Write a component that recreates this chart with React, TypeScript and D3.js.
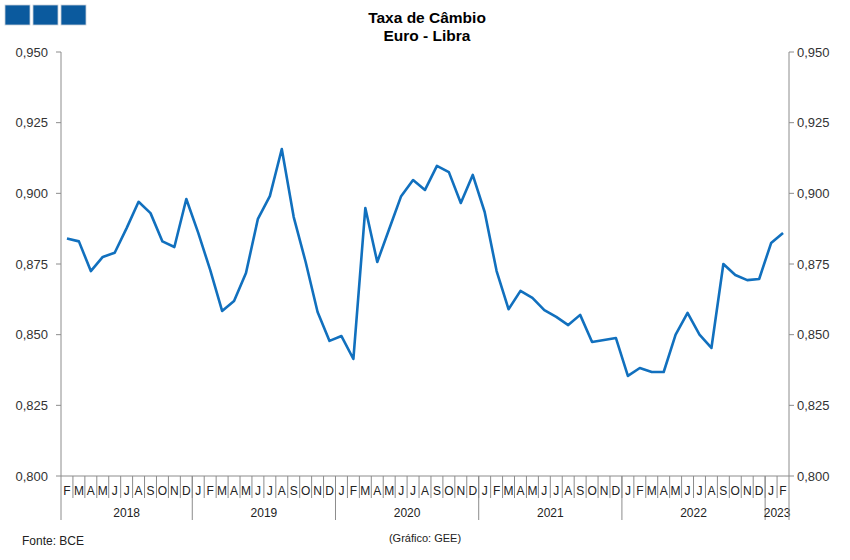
import React from 'react';
import * as d3 from 'd3';

// Euro - Libra, média mensal, Fev 2018 a Fev 2023
const months = [
  'F', 'M', 'A', 'M', 'J', 'J', 'A', 'S', 'O', 'N', 'D',
  'J', 'F', 'M', 'A', 'M', 'J', 'J', 'A', 'S', 'O', 'N', 'D',
  'J', 'F', 'M', 'A', 'M', 'J', 'J', 'A', 'S', 'O', 'N', 'D',
  'J', 'F', 'M', 'A', 'M', 'J', 'J', 'A', 'S', 'O', 'N', 'D',
  'J', 'F', 'M', 'A', 'M', 'J', 'J', 'A', 'S', 'O', 'N', 'D',
  'J', 'F',
];

const rates = [
  0.884, 0.883, 0.8725, 0.8775, 0.879, 0.8877, 0.897, 0.893, 0.883, 0.881, 0.898,
  0.886, 0.8729, 0.8584, 0.8619, 0.8718, 0.891, 0.899, 0.9157, 0.8916, 0.8757, 0.858, 0.8478,
  0.8495, 0.8414, 0.8948, 0.8757, 0.8874, 0.899, 0.9047, 0.9012, 0.9097, 0.9075, 0.8966, 0.9065,
  0.8934, 0.8725, 0.859, 0.8655, 0.863, 0.8587, 0.8563, 0.8534, 0.857, 0.8474, 0.8481, 0.8488,
  0.8354, 0.8382, 0.8368, 0.8368, 0.85, 0.8577, 0.85, 0.8453, 0.875, 0.8711, 0.8693, 0.8697,
  0.8824, 0.886,
];

const years = ['2018', '2019', '2020', '2021', '2022', '2023'];
const monthsPerYear = [11, 12, 12, 12, 12, 2];

const yTicks = [0.8, 0.825, 0.85, 0.875, 0.9, 0.925, 0.95];

const W = 850;
const H = 560;
const left = 61;
const right = 789;
const top = 52;
const bottom = 476;

const axisColor = '#8c8c8c';
const textColor = '#222';
const font = 'Arial, "Liberation Sans", sans-serif';

const App: React.FC = () => {
  const idx = months.map((_, i) => i);
  const x = d3.scaleBand<number>().domain(idx).range([left, right]).padding(0);
  const y = d3.scaleLinear().domain([0.8, 0.95]).range([bottom, top]);
  const fmt = (v: number) => d3.format('.3f')(v).replace('.', ',');

  const line = d3
    .line<number>()
    .x((_, i) => x(i)! + x.bandwidth() / 2)
    .y((d) => y(d));

  // year boundaries (in month index)
  const yearStart: number[] = [];
  let acc = 0;
  monthsPerYear.forEach((n) => {
    yearStart.push(acc);
    acc += n;
  });

  return (
    <svg width={W} height={H} style={{ position: 'absolute', left: 0, top: 0, background: '#fff' }}>
      {/* top-left boxes */}
      {[0, 1, 2].map((k) => (
        <rect key={k} x={5 + k * 28} y={5} width={25} height={20} fill="#0b5a9e" stroke="#c8d0da" strokeWidth={0.8} />
      ))}

      <text x={427} y={23} textAnchor="middle" fontFamily={font} fontSize={15.5} fontWeight="bold" fill="#000">
        Taxa de Câmbio
      </text>
      <text x={427} y={41} textAnchor="middle" fontFamily={font} fontSize={15.5} fontWeight="bold" fill="#000">
        Euro - Libra
      </text>

      {/* axes */}
      <line x1={left} x2={left} y1={top} y2={bottom} stroke={axisColor} />
      <line x1={right} x2={right} y1={top} y2={bottom} stroke={axisColor} />
      <line x1={left} x2={right} y1={bottom} y2={bottom} stroke={axisColor} />

      {yTicks.map((t) => (
        <g key={t}>
          <line x1={left - 5} x2={left} y1={y(t)} y2={y(t)} stroke={axisColor} />
          <line x1={right} x2={right + 5} y1={y(t)} y2={y(t)} stroke={axisColor} />
          <text x={left - 13} y={y(t) + 4.5} textAnchor="end" fontFamily={font} fontSize={13} fill="#333">
            {fmt(t)}
          </text>
          <text x={right + 8} y={y(t) + 4.5} textAnchor="start" fontFamily={font} fontSize={13} fill="#333">
            {fmt(t)}
          </text>
        </g>
      ))}

      {/* month labels and dividers */}
      {months.map((m, i) => (
        <g key={i}>
          <text
            x={x(i)! + x.bandwidth() / 2}
            y={495}
            textAnchor="middle"
            fontFamily={font}
            fontSize={12}
            fill={textColor}
          >
            {m}
          </text>
          {i > 0 && (
            <line x1={x(i)!} x2={x(i)!} y1={bottom} y2={498} stroke={axisColor} />
          )}
        </g>
      ))}

      {/* year labels and dividers */}
      {years.map((yr, k) => {
        const s = yearStart[k];
        const e = s + monthsPerYear[k];
        const x0 = x(s)!;
        const x1 = e >= months.length ? right : x(e)!;
        return (
          <g key={yr}>
            <line x1={x0} x2={x0} y1={bottom} y2={520} stroke={axisColor} />
            <text x={(x0 + x1) / 2} y={517} textAnchor="middle" fontFamily={font} fontSize={12} fill={textColor}>
              {yr}
            </text>
          </g>
        );
      })}
      <line x1={right} x2={right} y1={bottom} y2={520} stroke={axisColor} />

      <path d={line(rates)!} fill="none" stroke="#1170be" strokeWidth={2.6} strokeLinejoin="round" />

      <text x={22} y={545} fontFamily={font} fontSize={12} fill={textColor}>
        Fonte: BCE
      </text>
      <text x={425} y={542} textAnchor="middle" fontFamily={font} fontSize={11} fill={textColor}>
        (Gráfico: GEE)
      </text>
    </svg>
  );
};

export default App;
